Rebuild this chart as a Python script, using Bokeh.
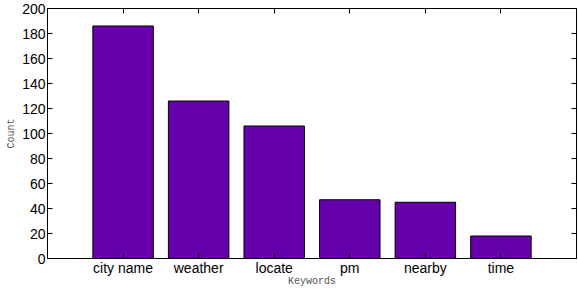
from bokeh.plotting import figure
from bokeh.models import Range1d, FixedTicker, LinearAxis, ColumnDataSource, CustomJSTickFormatter
from bokeh.embed import file_html
from bokeh.resources import INLINE

categories = ["city name", "weather", "locate", "pm", "nearby", "time"]
counts = [186, 126, 106, 47, 45, 18]
positions = [1, 2, 3, 4, 5, 6]
y_ticks = [0, 20, 40, 60, 80, 100, 120, 140, 160, 180, 200]

src = ColumnDataSource(dict(x=positions, top=counts, name=categories))

p = figure(width=578, height=289, output_backend="svg", toolbar_location=None,
           x_range=Range1d(0, 7), y_range=Range1d(0, 200),
           min_border_left=47, min_border_right=2, min_border_top=8, min_border_bottom=0,
           x_axis_label="Keywords", y_axis_label="Count")
p.grid.visible = False
p.outline_line_color = "black"
p.outline_line_width = 1
p.background_fill_color = "white"
p.border_fill_color = "white"

p.vbar(x="x", top="top", width=0.8, bottom=0, source=src,
       fill_color="#6600AA", line_color="black", line_width=1)

font = "Liberation Sans"
mono = "Liberation Mono"

xa = p.xaxis[0]
xa.ticker = FixedTicker(ticks=positions)
xa.major_label_overrides = {pos: c for pos, c in zip(positions, categories)}
ya = p.yaxis[0]
ya.ticker = FixedTicker(ticks=y_ticks)

for ax in (xa, ya):
    ax.major_tick_in = 5
    ax.major_tick_out = 0
    ax.minor_tick_line_color = None
    ax.axis_line_color = "black"
    ax.major_tick_line_color = "black"
    ax.major_label_text_font = font
    ax.major_label_text_font_size = "14px"
    ax.major_label_text_color = "black"
    ax.axis_label_text_font = mono
    ax.axis_label_text_font_size = "10px"
    ax.axis_label_text_font_style = "normal"
    ax.axis_label_text_color = "#555555"

xa.major_label_standoff = 1
xa.axis_label_standoff = -3
ya.major_label_standoff = 2
ya.axis_label_standoff = 2

empty = CustomJSTickFormatter(code="return ''")
top_ax = LinearAxis(ticker=FixedTicker(ticks=positions), formatter=empty)
right_ax = LinearAxis(ticker=FixedTicker(ticks=y_ticks), formatter=empty)
for ax in (top_ax, right_ax):
    ax.major_tick_in = 5
    ax.major_tick_out = 0
    ax.minor_tick_line_color = None
    ax.axis_line_color = None
    ax.major_tick_line_color = "black"
    ax.major_label_standoff = 0
p.add_layout(top_ax, "above")
p.add_layout(right_ax, "right")

open("out.html", "w").write(file_html(p, INLINE))
